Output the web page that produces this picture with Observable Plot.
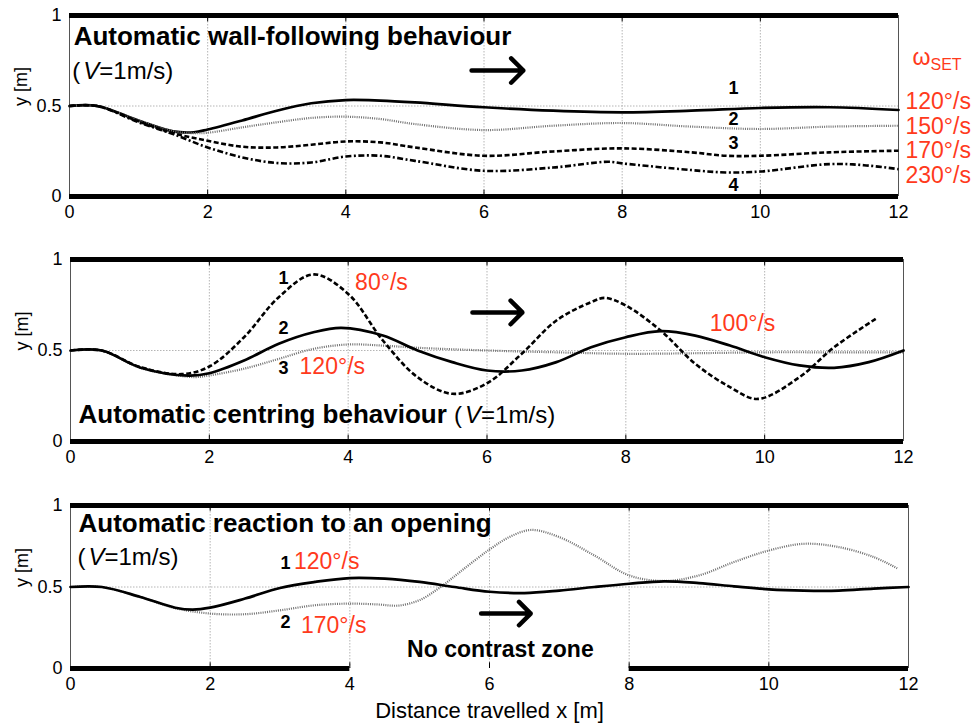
<!DOCTYPE html>
<html>
<head>
<meta charset="utf-8">
<script src="https://cdn.jsdelivr.net/npm/d3@7"></script>
<script src="https://cdn.jsdelivr.net/npm/@observablehq/plot@0.6"></script>
<style>
  html, body { margin: 0; padding: 0; background: #fff; }
  #chart svg { display: block; }
</style>
</head>
<body>
<div id="chart"></div>
<script>
// ---------- DATA ----------
const xTicks = [0, 2, 4, 6, 8, 10, 12];
const yTicks = [0, 0.5, 1];
const gridX = [2, 4, 6, 8, 10];
const gridY = [0.5];
const RED = "#ff3a1c";

// Panel 1: wall-following
const p1_c1_x = [0,0.4,1,1.5,1.8,2,2.5,3,3.5,4,4.5,5,6,7,8,9,10,11,12];
const p1_c1_y = [0.5,0.5,0.42,0.36,0.355,0.37,0.42,0.474,0.515,0.533,0.53,0.52,0.493,0.474,0.465,0.474,0.489,0.493,0.478];
const p1_c2_x = [0,0.4,1,1.5,1.8,2,2.5,3,3.5,4,4.5,5,6,7,8,9,10,11,12];
const p1_c2_y = [0.5,0.5,0.42,0.36,0.35,0.352,0.382,0.41,0.434,0.441,0.428,0.40,0.367,0.391,0.406,0.386,0.373,0.386,0.391];
const p1_c3_x = [0,0.4,1,1.5,2,2.5,3,3.5,4,4.5,5,6,7,8,9,9.5,10,11,12];
const p1_c3_y = [0.5,0.5,0.415,0.35,0.308,0.275,0.271,0.286,0.304,0.299,0.271,0.225,0.249,0.266,0.244,0.225,0.225,0.244,0.253];
const p1_c4_x = [0,0.4,1,1.5,2,2.5,3,3.5,4,4.5,5,6,7,7.8,8,9,9.5,10,11,11.5,12];
const p1_c4_y = [0.5,0.5,0.41,0.345,0.271,0.216,0.185,0.188,0.221,0.225,0.197,0.142,0.16,0.192,0.183,0.146,0.133,0.138,0.179,0.173,0.151];
const p1_numText = ["1","2","3","4"];
const p1_numX = [9.61, 9.61, 9.61, 9.61];
const p1_numY = [0.597, 0.425, 0.293, 0.061];
const p1_rateText = ["ωSET","120°/s","150°/s","170°/s","230°/s"];
const p1_rateY = [0.768, 0.525, 0.387, 0.254, 0.116];

// Panel 2: centring
const p2_c1_x = [0,0.45,1,1.6,2,2.5,3,3.5,4,4.5,5,5.5,6,6.5,7,7.5,7.7,8,8.5,9,9.5,9.9,10.5,11,11.6];
const p2_c1_y = [0.5,0.5,0.41,0.37,0.412,0.573,0.793,0.918,0.811,0.555,0.353,0.262,0.32,0.482,0.665,0.766,0.789,0.747,0.61,0.427,0.299,0.234,0.353,0.518,0.674];
const p2_c2_x = [0,0.45,1,1.7,2,2.5,3,3.5,3.9,4.5,5,5.5,6,6.5,7,7.5,8,8.5,9,9.5,10,10.5,11,11.5,12];
const p2_c2_y = [0.5,0.5,0.407,0.362,0.375,0.445,0.537,0.60,0.624,0.582,0.5,0.436,0.39,0.39,0.436,0.518,0.573,0.606,0.582,0.527,0.463,0.418,0.405,0.436,0.5];
const p2_c3_x = [0,0.45,1,1.5,1.8,2,2.5,3,3.5,4,4.5,5,6,7,8,9,10,11,12];
const p2_c3_y = [0.5,0.5,0.405,0.365,0.354,0.363,0.40,0.454,0.509,0.533,0.527,0.515,0.5,0.49,0.482,0.485,0.49,0.49,0.49];
const p2_numText = ["1","2","3"];
const p2_numX = [3.07, 3.07, 3.07];
const p2_numY = [0.896, 0.62, 0.40];
const p2_rateText = ["80°/s","120°/s","100°/s"];
const p2_rateX = [4.1, 3.3, 9.21];
const p2_rateY = [0.873, 0.41, 0.648];

// Panel 3: reaction to an opening
const p3_c1_x = [0,0.45,1,1.5,1.75,2,2.5,3,3.5,4,4.5,5,5.5,6,6.5,7,7.5,8,8.5,9,9.5,10,10.5,11,11.5,12];
const p3_c1_y = [0.5,0.5,0.439,0.373,0.361,0.373,0.429,0.494,0.531,0.555,0.551,0.531,0.5,0.471,0.463,0.478,0.5,0.52,0.535,0.524,0.504,0.486,0.478,0.478,0.49,0.5];
const p3_c2_x = [0,0.45,1,1.5,2,2.5,3,3.5,4,4.4,4.7,5,5.3,5.6,6,6.3,6.6,7,7.5,8,8.5,9,9.5,10,10.5,11,11.5,11.85];
const p3_c2_y = [0.5,0.5,0.439,0.37,0.337,0.333,0.357,0.388,0.398,0.393,0.386,0.42,0.5,0.6,0.73,0.81,0.85,0.806,0.694,0.571,0.537,0.571,0.653,0.724,0.765,0.745,0.684,0.612];
const p3_numText = ["1","2"];
const p3_numX = [3.08, 3.08];
const p3_numY = [0.644, 0.282];
const p3_rateText = ["120°/s","170°/s"];
const p3_rateX = [3.2, 3.3];
const p3_rateY = [0.656, 0.264];

// Walls (thick black lines) per panel: [x1, x2, y]
const p1_walls = [[0,12,0],[0,12,1]];
const p2_walls = [[0,12,0],[0,12,1]];
const p3_walls = [[0,4,0],[8,12,0],[0,12,1]];

// Titles / arrows
const p1_title = {text:"Automatic wall-following behaviour", x:0.06, y:0.881};
const p1_sub = {text:"(V=1m/s)", x:0.04, y:0.69};
const p1_arrow = {x1:5.82, x2:6.57, y:0.696};
const p2_title = {text:"Automatic centring behaviour (V=1m/s)", x:0.115, y:0.148};
const p2_arrow = {x1:5.79, x2:6.51, y:0.709};
const p3_title = {text:"Automatic reaction to an opening", x:0.115, y:0.89};
const p3_sub = {text:"(V=1m/s)", x:0.1, y:0.68};
const p3_note = {text:"No contrast zone", x:4.82, y:0.117};
const p3_arrow = {x1:5.88, x2:6.59, y:0.337};
const xLabel = "Distance travelled x [m]";
const yLabel = "y [m]";

// ---------- HELPERS ----------
const FONT = "'Liberation Sans', Arial, Helvetica, sans-serif";
const NARROW = "'Liberation Sans Narrow', 'Liberation Sans', Arial, sans-serif";
const zip = (xs, ys) => xs.map((x, i) => ({x, y: ys[i]}));
const STYLES = {
  solid:   {stroke: "black", strokeWidth: 2.7},
  dotted:  {stroke: "#707070", strokeWidth: 2.2, strokeDasharray: "1,1.2", strokeLinecap: "butt"},
  dashed:  {stroke: "black", strokeWidth: 2.6, strokeDasharray: "5,2.5", strokeLinecap: "butt"},
  dashdot: {stroke: "black", strokeWidth: 2.6, strokeDasharray: "6,2.5,2,2.5", strokeLinecap: "butt"}
};

function panel({height, mt, mb, ml, mr, series, walls, texts, arrow, showXLabel}) {
  const marks = [
    Plot.ruleX(gridX, {stroke: "#b5b5b5", strokeWidth: 1, strokeDasharray: "1.5,1.5"}),
    Plot.ruleY(gridY, {stroke: "#b5b5b5", strokeWidth: 1, strokeDasharray: "1.5,1.5"}),
    Plot.ruleX([0, 12], {stroke: "#555", strokeWidth: 1}),
    Plot.ruleX(gridX, {y1: 0, y2: 0.035, stroke: "black", strokeWidth: 1}),
    Plot.ruleX(gridX, {y1: 1, y2: 0.965, stroke: "black", strokeWidth: 1}),
    ...series.map(s => Plot.line(zip(s.x, s.y), {x: "x", y: "y", curve: "catmull-rom", ...STYLES[s.style]})),
    Plot.ruleY(walls, {x1: d => d[0], x2: d => d[1], y: d => d[2], stroke: "black", strokeWidth: 5}),
    Plot.axisX({ticks: xTicks, tickSize: 0, tickPadding: 9, fontSize: 18, label: null, fill: "black"}),
    Plot.axisY({ticks: yTicks, tickSize: 0, tickPadding: 8, fontSize: 18, label: null, fill: "black",
                tickFormat: d => d === 0.5 ? "0.5" : String(d)}),
    Plot.text([yLabel], {frameAnchor: "left", dx: -48, rotate: -90, fontSize: 18, fill: "black"}),
    Plot.arrow([arrow], {x1: "x1", x2: "x2", y1: "y", y2: "y", stroke: "black", strokeWidth: 4.5,
                         headLength: 12, headAngle: 90}),
    ...texts
  ];
  if (showXLabel) {
    marks.push(Plot.text([xLabel], {frameAnchor: "bottom", dy: 49, fontSize: 22, fill: "black"}));
  }
  return Plot.plot({
    width: 972, height,
    marginTop: mt, marginBottom: mb, marginLeft: ml, marginRight: mr,
    x: {domain: [0, 12], axis: null},
    y: {domain: [0, 1], axis: null},
    style: {fontFamily: FONT, fontSize: "18px", background: "white", overflow: "visible"},
    marks
  });
}

function txt(obj, opts) {
  return Plot.text([obj], {x: "x", y: "y", text: "text", textAnchor: "start", fill: "black", ...opts});
}
function labels(t, xs, ys, opts) {
  return Plot.text(t.map((s, i) => ({s, x: xs[i], y: ys[i]})),
    {x: "x", y: "y", text: "s", textAnchor: "start", ...opts});
}
function nums(t, xs, ys) {
  return Plot.text(t.map((s, i) => ({s, x: xs[i], y: ys[i]})),
    {x: "x", y: "y", text: "s", fontSize: 18, fontWeight: "bold", fontFamily: NARROW, fill: "black"});
}

// ---------- PANELS ----------
const svg1 = panel({
  height: 230, mt: 15, mb: 34, ml: 69, mr: 74,
  series: [
    {x: p1_c1_x, y: p1_c1_y, style: "solid"},
    {x: p1_c2_x, y: p1_c2_y, style: "dotted"},
    {x: p1_c3_x, y: p1_c3_y, style: "dashed"},
    {x: p1_c4_x, y: p1_c4_y, style: "dashdot"}
  ],
  walls: p1_walls,
  arrow: p1_arrow,
  texts: [
    txt(p1_title, {fontSize: 26, fontWeight: "bold"}),
    txt(p1_sub, {fontSize: 24}),
    nums(p1_numText, p1_numX, p1_numY),
    Plot.text(p1_rateText.map((s, i) => ({s, y: p1_rateY[i], k: i})),
      {x: () => 12, y: "y", text: "s", textAnchor: "start", dx: 7, fill: RED, fontSize: 23})
  ]
});

const svg2 = panel({
  height: 255, mt: 29, mb: 44, ml: 70, mr: 69,
  series: [
    {x: p2_c3_x, y: p2_c3_y, style: "dotted"},
    {x: p2_c1_x, y: p2_c1_y, style: "dashed"},
    {x: p2_c2_x, y: p2_c2_y, style: "solid"}
  ],
  walls: p2_walls,
  arrow: p2_arrow,
  texts: [
    txt(p2_title, {fontSize: 26, fontWeight: "bold"}),
    nums(p2_numText, p2_numX, p2_numY),
    labels(p2_rateText, p2_rateX, p2_rateY, {fill: RED, fontSize: 23})
  ]
});

const svg3 = panel({
  height: 241, mt: 20, mb: 58, ml: 70, mr: 64,
  series: [
    {x: p3_c2_x, y: p3_c2_y, style: "dotted"},
    {x: p3_c1_x, y: p3_c1_y, style: "solid"}
  ],
  walls: p3_walls,
  arrow: p3_arrow,
  showXLabel: true,
  texts: [
    txt(p3_title, {fontSize: 26, fontWeight: "bold"}),
    txt(p3_sub, {fontSize: 24}),
    txt(p3_note, {fontSize: 23, fontWeight: "bold"}),
    nums(p3_numText, p3_numX, p3_numY),
    labels(p3_rateText, p3_rateX, p3_rateY, {fill: RED, fontSize: 23})
  ]
});

const chart = document.getElementById("chart");
[svg1, svg2, svg3].forEach(s => chart.appendChild(s));

// ---------- Rich text (italic V, subscript, mixed weight) ----------
const NS = "http://www.w3.org/2000/svg";
function span(parent, str, attrs = {}) {
  const t = document.createElementNS(NS, "tspan");
  for (const k in attrs) t.setAttribute(k, attrs[k]);
  t.textContent = str;
  parent.appendChild(t);
  return t;
}
document.querySelectorAll("#chart text").forEach(el => {
  const s = el.textContent;
  if (s === "(V=1m/s)") {
    el.textContent = "";
    span(el, "(");
    span(el, "V", {"font-style": "italic", "dx": "3"});
    span(el, "=1m/s)");
  } else if (s === "Automatic centring behaviour (V=1m/s)") {
    el.textContent = "";
    span(el, "Automatic centring behaviour ");
    span(el, "(", {"font-weight": "normal", "font-size": "24"});
    span(el, "V", {"font-weight": "normal", "font-style": "italic", "font-size": "24", "dx": "3"});
    span(el, "=1m/s)", {"font-weight": "normal", "font-size": "24"});
  } else if (s === "ωSET") {
    el.textContent = "";
    span(el, "ω", {"dx": "7"});
    span(el, "SET", {"font-size": "16", "dy": "5"});
  }
});
</script>
</body>
</html>
